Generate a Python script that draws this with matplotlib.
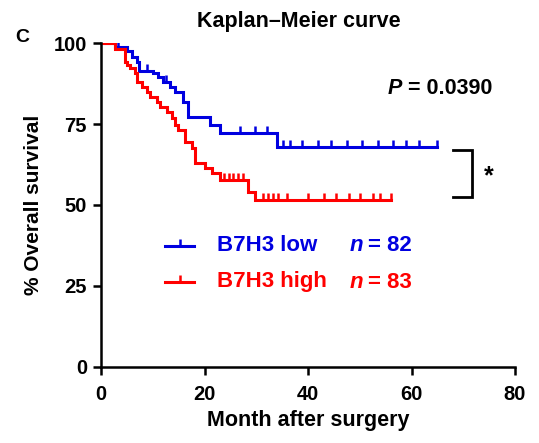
import numpy as np
import matplotlib
matplotlib.use("Agg")
import matplotlib.pyplot as plt
from matplotlib.lines import Line2D

plt.rcParams['font.family'] = ['Liberation Sans', 'DejaVu Sans']
plt.rcParams['font.weight'] = 'bold'

# Kaplan-Meier data (months, % survival after each event)
low_t = [2.7, 5.0, 5.9, 6.9, 7.3, 10.1, 11.1, 12.0, 13.3, 14.3, 15.9, 16.9, 21.0, 23.0, 34.0]
low_s = [98.8, 97.5, 95.8, 94.2, 91.5, 90.6, 89.6, 88.0, 86.5, 85.0, 81.9, 77.3, 74.7, 72.3, 68.0]
low_cens = [3.3, 8.8, 12.5, 26.9, 29.8, 32.0, 35.2, 36.5, 38.9, 42.0, 44.5, 47.5,
            50.5, 53.5, 56.5, 59.0, 61.5, 65.0]
low_end = 65.0

high_t = [2.7, 4.6, 5.0, 5.6, 6.6, 6.9, 7.9, 8.8, 9.5, 10.8, 11.4, 12.7, 13.7, 14.3,
          14.9, 16.2, 17.5, 18.2, 20.0, 21.4, 23.0, 28.4, 29.8]
high_s = [98.3, 94.2, 93.2, 92.2, 90.6, 88.0, 86.5, 84.9, 83.4, 81.9, 80.3, 78.8, 76.7,
          74.7, 73.0, 69.4, 67.6, 63.0, 61.4, 59.8, 57.7, 54.1, 51.5]
high_cens = [23.8, 24.7, 25.6, 26.5, 27.4, 31.3, 32.3, 33.2, 34.2, 36.0, 40.0, 43.0,
             45.5, 48.0, 50.0, 52.5, 54.0, 56.0]
high_end = 56.0

groups = [("B7H3 low", "82", low_t, low_s, low_cens, low_end, "#0000e0"),
          ("B7H3 high", "83", high_t, high_s, high_cens, high_end, "#ff0000")]

fig = plt.figure(figsize=(5.39, 4.43), dpi=100)
ax = fig.add_axes([0.1874, 0.1716, 0.7681, 0.7313])

for name, n, t, s, cens, end, col in groups:
    tt = np.r_[0, t, end]
    ss = np.r_[100, s, s[-1]]
    ax.step(tt, ss, where='post', color=col, lw=2.2, solid_joinstyle='miter')
    cens = np.array(cens)
    idx = np.searchsorted(tt, cens, side='right') - 1
    ax.plot(cens, ss[idx], ls='none', marker=2, ms=5, mew=1.8, color=col)

ax.set_xlim(0, 80)
ax.set_ylim(0, 100)
ax.set_xticks([0, 20, 40, 60, 80])
ax.set_yticks([0, 25, 50, 75, 100])
for sp in ['top', 'right']:
    ax.spines[sp].set_visible(False)
for sp in ['left', 'bottom']:
    ax.spines[sp].set_linewidth(1.8)
ax.tick_params(width=1.8, length=6, labelsize=14.5, direction='out')
ax.tick_params(axis='x', pad=7)
ax.tick_params(axis='y', pad=4)
ax.set_xlabel("Month after surgery", fontsize=15.5, fontweight='bold', labelpad=4)
ax.set_ylabel("% Overall survival", fontsize=15, fontweight='bold', labelpad=8)

fig.text(299 / 539, 1 - 22 / 443, "Kaplan\u2013Meier curve", ha='center', va='center',
         fontsize=15.5, fontweight='bold')
fig.text(22 / 539, 1 - 38 / 443, "C", ha='center', va='center', fontsize=14, fontweight='bold')

# P value
fig.text(388 / 539, 1 - 89 / 443, "P", ha='left', va='center', fontsize=15.5,
         fontweight='bold', style='italic')
fig.text(408 / 539, 1 - 89 / 443, "= 0.0390", ha='left', va='center', fontsize=15.5,
         fontweight='bold')

# significance bracket
bx = [68.0, 71.7, 71.7, 68.0]
by = [67.0, 67.0, 52.5, 52.5]
ax.plot(bx, by, color='black', lw=2, clip_on=False, solid_joinstyle='miter')
ax.text(75.0, 59.0, "*", fontsize=18, fontweight='bold', ha='center', va='center')

# legend
rows_y = [1 - 246 / 443, 1 - 282 / 443]
for (name, n, t, s, cens, end, col), y in zip(groups, rows_y):
    fig.add_artist(Line2D([165 / 539, 194 / 539], [y, y], color=col, lw=2.2))
    fig.add_artist(Line2D([179.5 / 539], [y], marker=2, ms=5, mew=1.8, color=col))
    fig.text(217 / 539, y, name, color=col, fontsize=16, fontweight='bold', va='center')
    fig.text(350 / 539, y, "n", color=col, fontsize=16, fontweight='bold',
             style='italic', va='center')
    fig.text(368 / 539, y, "= " + n, color=col, fontsize=16,
             fontweight='bold', va='center')

fig.savefig("out.png", dpi=100)
